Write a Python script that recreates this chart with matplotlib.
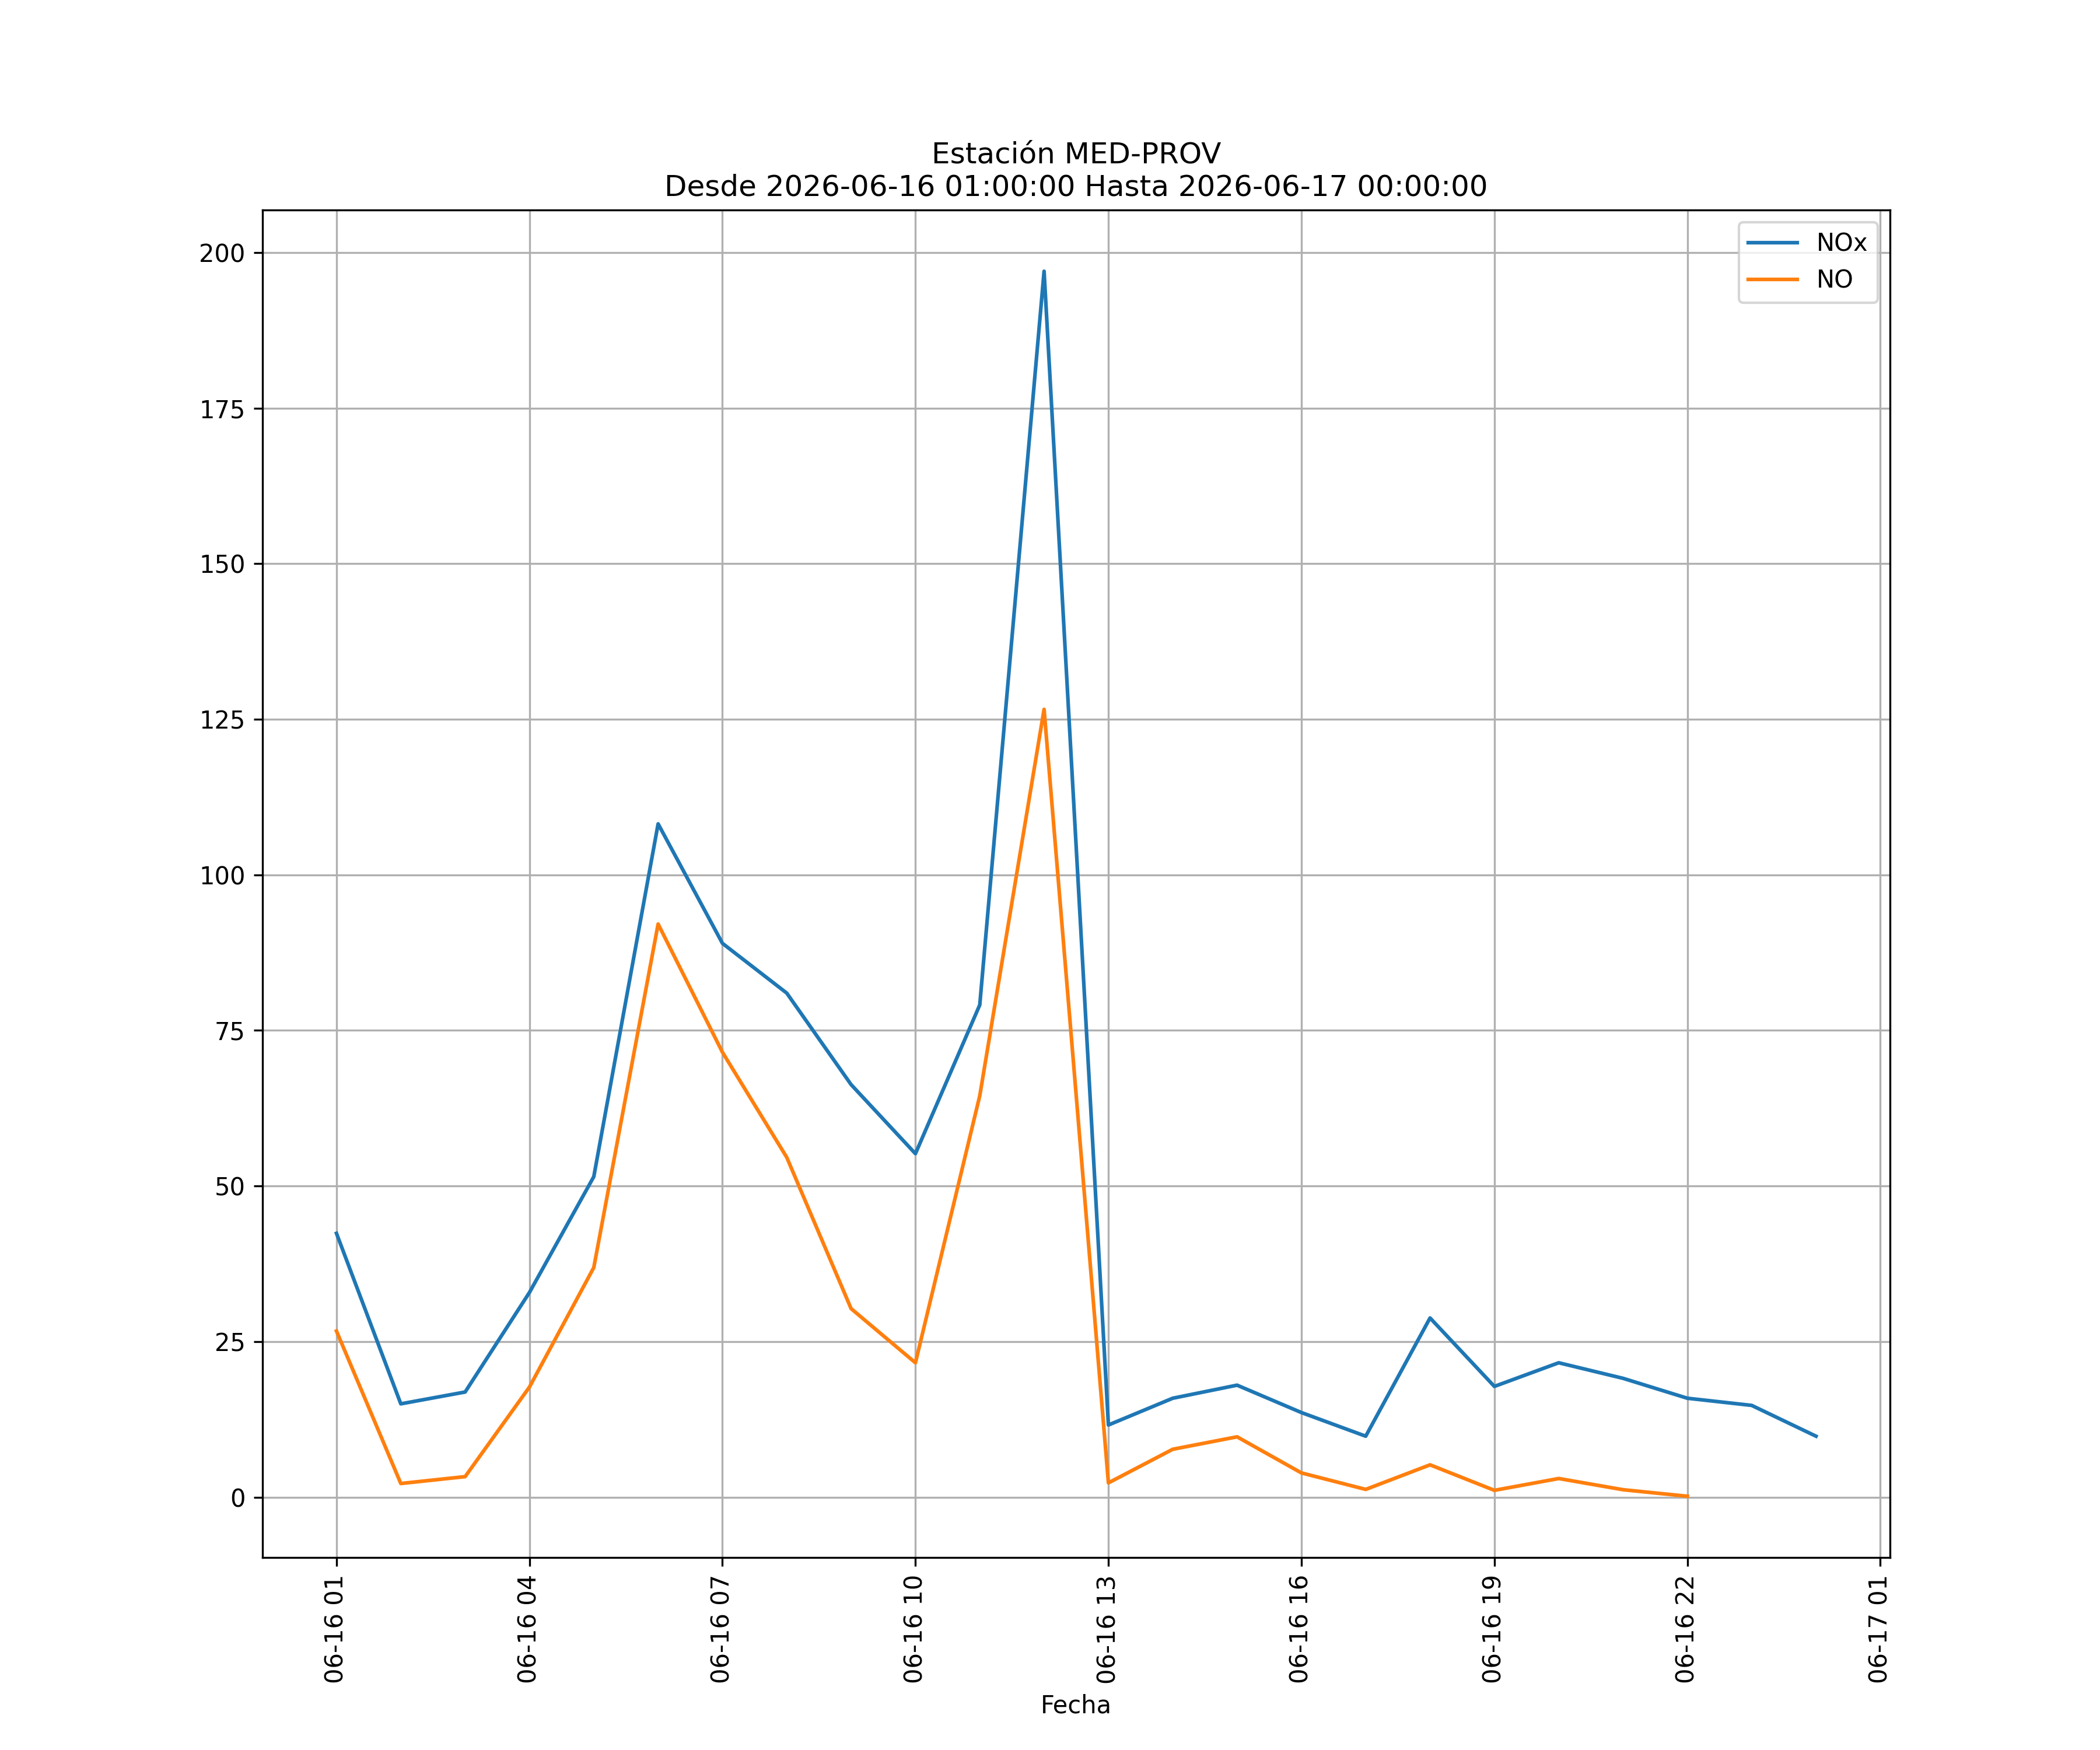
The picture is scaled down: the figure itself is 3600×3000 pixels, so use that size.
import matplotlib
matplotlib.use("Agg")
import matplotlib.pyplot as plt
import matplotlib.dates as mdates
import pandas as pd

times = pd.date_range("2026-06-16 01:00:00", "2026-06-17 00:00:00", freq="h")

nox = [42.4, 15.0, 16.9, 32.9, 51.5, 108.2, 89.0, 81.0, 66.3, 55.2, 79.1, 197.0,
       11.6, 15.9, 18.0, 13.6, 9.8, 28.8, 17.8, 21.6, 19.1, 15.9, 14.75, 9.8]
no = [26.7, 2.2, 3.3, 17.7, 36.9, 92.1, 71.5, 54.6, 30.3, 21.6, 64.5, 126.6,
      2.3, 7.7, 9.7, 3.9, 1.25, 5.2, 1.1, 3.0, 1.2, 0.15]

fig, ax = plt.subplots(figsize=(12, 10), dpi=300)
ax.plot(times, nox, label="NOx")
ax.plot(times[:len(no)], no, label="NO")
ax.set_title("Estación MED-PROV\nDesde 2026-06-16 01:00:00 Hasta 2026-06-17 00:00:00")
ax.set_xlabel("Fecha")
ax.xaxis.set_major_locator(mdates.HourLocator(byhour=range(1, 24, 3)))
ax.xaxis.set_major_formatter(mdates.DateFormatter("%m-%d %H"))
ax.grid(True)
ax.legend(loc="upper right")
plt.setp(ax.get_xticklabels(), rotation=90)
fig.savefig("out.png", dpi=300)
